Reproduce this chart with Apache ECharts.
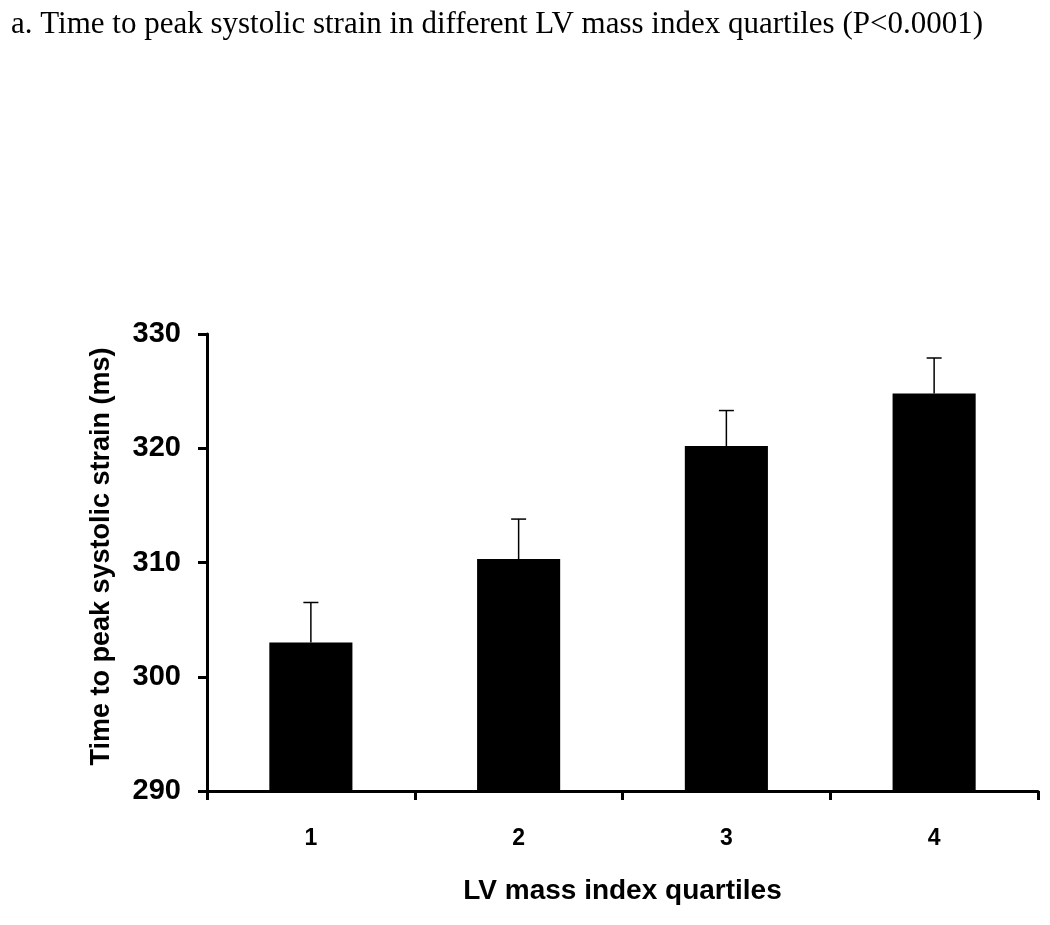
<!DOCTYPE html>
<html>
<head>
<meta charset="utf-8">
<title>Time to peak systolic strain</title>
<script src="https://cdn.jsdelivr.net/npm/echarts@6/dist/echarts.min.js"></script>
<style>
    html, body { margin: 0; padding: 0; background: #fff; }
    #chart { width: 1050px; height: 925px; }
</style>
</head>
<body>
<div id="chart"></div>
<script>
// LV mass index quartiles
const quartiles  = ['1', '2', '3', '4'];
// mean time to peak systolic strain (ms)
const meanValues = [303.0, 310.3, 320.2, 324.8];
// upper end of the error bar (mean + SE)
const errorTops  = [306.5, 313.8, 323.3, 327.9];
const yTicks     = [290, 300, 310, 320, 330];

const el    = document.getElementById('chart');
const chart = echarts.init(el, null, { renderer: 'canvas' });

const boldSans = 'Arial, "Liberation Sans", Helvetica, sans-serif';

// error bars only go up, with a small cap
function renderErrorBar(params, api) {
    const base = api.coord([api.value(0), api.value(1)]);
    const top  = api.coord([api.value(0), api.value(2)]);
    const capHalf = 7.5;
    const style = { stroke: '#000', lineWidth: 1.5 };
    return {
        type: 'group',
        children: [
            { type: 'line', shape: { x1: base[0], y1: base[1], x2: top[0], y2: top[1] }, style },
            { type: 'line', shape: { x1: top[0] - capHalf, y1: top[1], x2: top[0] + capHalf, y2: top[1] }, style }
        ]
    };
}

chart.setOption({
    animation: false,
    backgroundColor: '#fff',
    title: {
        text: 'a. Time to peak systolic strain in different LV mass index quartiles (P<0.0001)',
        left: 6,
        top: 4,
        textStyle: {
            fontFamily: '"Times New Roman", "Liberation Serif", serif',
            fontWeight: 'normal',
            fontSize: 31,
            color: '#000'
        }
    },
    grid: { left: 207, right: 12, top: 334, bottom: 134 },
    xAxis: {
        type: 'category',
        data: quartiles,
        name: 'LV mass index quartiles',
        nameLocation: 'middle',
        nameGap: 86,
        nameTextStyle: { fontFamily: boldSans, fontWeight: 'bold', fontSize: 28, color: '#000' },
        axisLine: { lineStyle: { color: '#000', width: 3 } },
        axisTick: { show: true, length: 9, lineStyle: { color: '#000', width: 3 } },
        axisLabel: { fontFamily: boldSans, fontWeight: 'bold', fontSize: 23, color: '#000', margin: 36 },
        splitLine: { show: false }
    },
    yAxis: {
        type: 'value',
        min: yTicks[0],
        max: yTicks[yTicks.length - 1],
        interval: 10,
        name: 'Time to peak systolic strain (ms)',
        nameLocation: 'middle',
        nameGap: 92,
        nameTextStyle: { fontFamily: boldSans, fontWeight: 'bold', fontSize: 27, color: '#000', padding: [0, 0, 0, 12] },
        axisLine: { show: true, lineStyle: { color: '#000', width: 3 } },
        axisTick: { show: true, length: 9, lineStyle: { color: '#000', width: 3 } },
        axisLabel: { fontFamily: boldSans, fontWeight: 'bold', fontSize: 29, color: '#000', margin: 26 },
        splitLine: { show: false }
    },
    series: [
        {
            type: 'bar',
            data: meanValues,
            barWidth: '40%',
            itemStyle: { color: '#000' },
            z: 2
        },
        {
            type: 'custom',
            renderItem: renderErrorBar,
            data: quartiles.map((q, i) => [i, meanValues[i], errorTops[i]]),
            z: 3
        }
    ]
});

new ResizeObserver(() => chart.resize()).observe(el);
</script>
</body>
</html>
